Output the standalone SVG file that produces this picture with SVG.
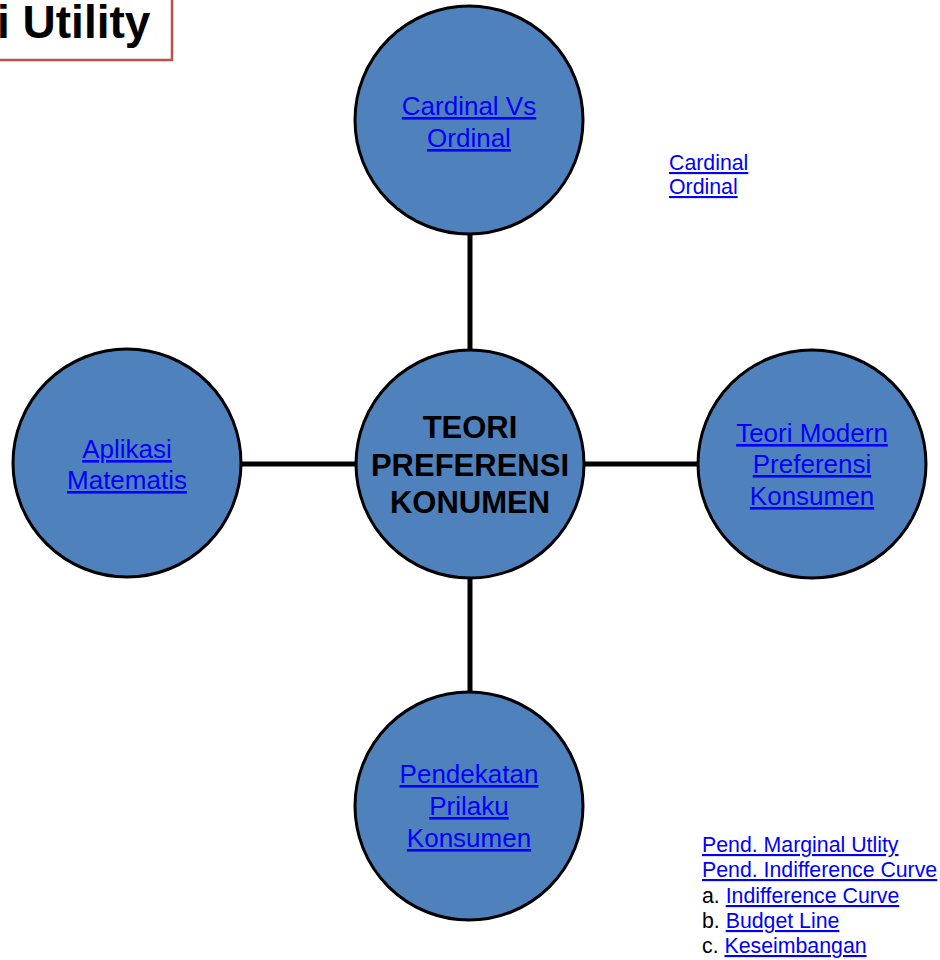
<svg xmlns="http://www.w3.org/2000/svg" width="940" height="960" viewBox="0 0 940 960">
<style>
.node{fill:#4F81BD;stroke:#000;stroke-width:3}
.lk{font-family:"Liberation Sans",Arial,sans-serif;fill:#0000FF;text-decoration:underline;text-anchor:middle;font-size:26px}
.sm{font-family:"Liberation Sans",Arial,sans-serif;font-size:21.3px;fill:#000}
.sm .a{fill:#0000FF;text-decoration:underline}
.ctr{font-family:"Liberation Sans",Arial,sans-serif;font-weight:bold;font-size:31px;text-anchor:middle;fill:#000}
.conn{stroke:#000;stroke-width:5;fill:none}
</style>
<rect width="940" height="960" fill="#fff"/>
<g id="title">
<rect x="-20" y="-10" width="192" height="70" fill="#fff" stroke="#C0504D" stroke-width="2.5"/>
<text x="-3" y="38" font-family="'Liberation Sans',Arial,sans-serif" font-weight="bold" font-size="46">i Utility</text>
</g>
<g id="connectors">
<line class="conn" x1="470" y1="234" x2="470" y2="350"/>
<line class="conn" x1="470" y1="578" x2="470" y2="692"/>
<line class="conn" x1="241" y1="464" x2="356" y2="464"/>
<line class="conn" x1="584" y1="464" x2="698" y2="464"/>
</g>
<g id="center">
<circle class="node" cx="470" cy="464" r="114"/>
<text class="ctr" x="470" y="438">TEORI</text>
<text class="ctr" x="470" y="476">PREFERENSI</text>
<text class="ctr" x="470" y="513">KONUMEN</text>
</g>
<g id="top">
<circle class="node" cx="469" cy="120" r="114"/>
<text class="lk" x="469" y="115">Cardinal Vs</text>
<text class="lk" x="469" y="147">Ordinal</text>
</g>
<g id="left">
<circle class="node" cx="127" cy="463" r="114"/>
<text class="lk" x="127" y="458">Aplikasi</text>
<text class="lk" x="127" y="489">Matematis</text>
</g>
<g id="right">
<circle class="node" cx="812" cy="464" r="114"/>
<text class="lk" x="812" y="442">Teori Modern</text>
<text class="lk" x="812" y="473">Preferensi</text>
<text class="lk" x="812" y="505">Konsumen</text>
</g>
<g id="bottom">
<circle class="node" cx="469" cy="806" r="114"/>
<text class="lk" x="469" y="783">Pendekatan</text>
<text class="lk" x="469" y="815">Prilaku</text>
<text class="lk" x="469" y="847">Konsumen</text>
</g>
<g id="note-top">
<text class="sm" x="669" y="170"><tspan class="a">Cardinal</tspan></text>
<text class="sm" x="669" y="194"><tspan class="a">Ordinal</tspan></text>
</g>
<g id="note-bottom">
<text class="sm" x="702" y="852"><tspan class="a">Pend. Marginal Utlity</tspan></text>
<text class="sm" x="702" y="877"><tspan class="a">Pend. Indifference Curve</tspan></text>
<text class="sm" x="702" y="903">a. <tspan class="a">Indifference Curve</tspan></text>
<text class="sm" x="702" y="928">b. <tspan class="a">Budget Line</tspan></text>
<text class="sm" x="702" y="953">c. <tspan class="a">Keseimbangan</tspan></text>
</g>
</svg>
